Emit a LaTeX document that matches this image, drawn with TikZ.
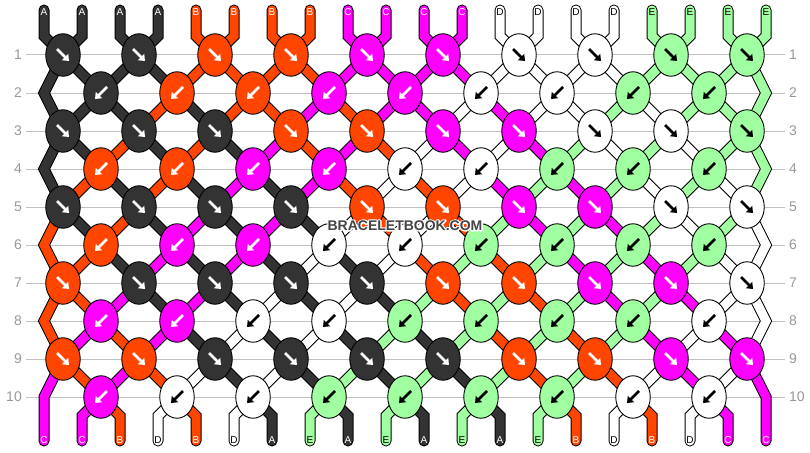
\documentclass[tikz,border=0pt]{standalone}
\usepackage{fontspec}
\setmainfont{Liberation Sans}
\usetikzlibrary{shapes.geometric,arrows.meta}
\pgfdeclarelayer{bg}
\pgfdeclarelayer{grid}
\pgfdeclarelayer{strout}
\pgfdeclarelayer{strfill}
\pgfsetlayers{bg,grid,strout,strfill,main}
\definecolor{cA}{HTML}{333333}
\definecolor{cB}{HTML}{FF4500}
\definecolor{cC}{HTML}{FF00FF}
\definecolor{cD}{HTML}{FFFFFF}
\definecolor{cE}{HTML}{A0FFA0}
\colorlet{tA}{white}
\colorlet{tB}{white}
\colorlet{tC}{white}
\colorlet{tD}{black}
\colorlet{tE}{black}
\definecolor{rowgray}{HTML}{999999}
\definecolor{linegray}{HTML}{C0C0C0}
\definecolor{wmgray}{HTML}{444444}
\tikzset{
  knot/.style={ellipse, draw=black, line width=0.9pt, minimum width=34.5pt, minimum height=42.5pt, inner sep=0pt},
  arr/.style={line width=2.6pt, -{Triangle[length=5.5pt,width=8.5pt]}},
  strouter/.style={line width=11pt, black, line cap=round, line join=miter},
  strinner/.style={line width=9pt, line cap=round, line join=miter},
  lbl/.style={inner sep=0pt, font=\fontsize{10}{12}\selectfont},
  rowlbl/.style={inner sep=0pt, text=rowgray, font=\fontsize{14}{16}\selectfont},
  gridline/.style={linegray, line width=1pt},
  wm/.style={inner sep=0pt, font=\fontsize{14}{16}\selectfont\bfseries}
}
\begin{document}
\begin{tikzpicture}[x=1pt,y=-1pt]
\useasboundingbox (0,0) rectangle (810,452);
\begin{pgfonlayer}{bg}
\fill[white] (0,0) rectangle (810,452);
\end{pgfonlayer}
% rows: labels, grid lines, edge points
\foreach \r in {1,...,10} {
  \pgfmathsetmacro\y{55+38*(\r-1)}
  \node[rowlbl, anchor=east] (RL-\r) at (22,\y) {\r};
  \node[rowlbl, anchor=west] (RR-\r) at (789,\y) {\r};
  \coordinate (GL-\r) at (26,\y);
  \coordinate (GR-\r) at (785,\y);
  \begin{pgfonlayer}{grid}
  \draw[gridline] (GL-\r) -- (GR-\r);
  \end{pgfonlayer}
  \coordinate (E-\r-L) at (44,\y);
  \coordinate (E-\r-R) at (766,\y);
}
% knots
\foreach \r/\cols in {1/{A,A,B,B,C,C,D,D,E,E},2/{A,B,B,C,C,D,D,E,E},3/{A,A,A,B,B,C,C,D,D,E},4/{B,B,C,C,D,D,E,E,E},5/{A,A,A,A,B,B,C,C,D,D},6/{B,C,C,D,D,E,E,E,E},7/{B,A,A,A,A,B,B,C,C,D},8/{C,C,D,D,E,E,E,E,D},9/{B,B,A,A,A,A,B,B,C,C},10/{C,D,D,E,E,E,E,D,D}} {
  \pgfmathsetmacro\y{55+38*(\r-1)}
  \pgfmathtruncatemacro\odd{mod(\r,2)}
  \foreach \c [count=\k from 0] in \cols {
    \pgfmathsetmacro\x{(\odd==1 ? 63 : 101) + 76*\k}
    \node[knot, fill=c\c] (K-\r-\k) at (\x,\y) {};
    \ifnum\odd=1
      \draw[arr, t\c] (K-\r-\k.center) ++(-6,-6) -- ++(12,12);
    \else
      \draw[arr, t\c] (K-\r-\k.center) ++(6,-6) -- ++(-12,12);
    \fi
  }
}
% string end points and top labels
\foreach \s in {0,...,19} {
  \pgfmathtruncatemacro\ci{int(\s/4)}
  \edef\sc{\ifcase\ci A\or B\or C\or D\or E\fi}
  \pgfmathsetmacro\xs{44+38*\s}
  \coordinate (T-\s) at (\xs,10);
  \coordinate (U-\s) at (\xs,36);
  \coordinate (V-\s) at (\xs,416);
  \coordinate (W-\s) at (\xs,441);
  \node[lbl, text=t\sc] (LT-\s) at (\xs,12.5) {\sc};
}
% bottom labels
\foreach \c [count=\s from 0] in {C,C,B,D,B,D,A,E,A,E,A,E,A,E,B,D,B,D,C,C} {
  \pgfmathsetmacro\xs{44+38*\s}
  \node[lbl, text=t\c] (LB-\s) at (\xs,440) {\c};
}
% strings
\foreach \s in {0,...,19} {
  \pgfmathtruncatemacro\ci{int(\s/4)}
  \edef\sc{\ifcase\ci A\or B\or C\or D\or E\fi}
  \xdef\pos{\s}
  \xdef\mypath{(T-\s) -- (U-\s)}
  \foreach \r in {1,...,10} {
    \pgfmathtruncatemacro\odd{mod(\r,2)}
    \ifnum\odd=1
      \pgfmathtruncatemacro\k{int(\pos/2)}
      \xdef\mypath{\mypath -- (K-\r-\k.center)}
      \pgfmathtruncatemacro\np{\pos + (mod(\pos,2)==0 ? 1 : -1)}
    \else
      \ifnum\pos=0
        \xdef\mypath{\mypath -- (E-\r-L)}
        \def\np{0}
      \else
        \ifnum\pos=19
          \xdef\mypath{\mypath -- (E-\r-R)}
          \def\np{19}
        \else
          \pgfmathtruncatemacro\k{int((\pos-1)/2)}
          \xdef\mypath{\mypath -- (K-\r-\k.center)}
          \pgfmathtruncatemacro\np{\pos + (mod(\pos,2)==1 ? 1 : -1)}
        \fi
      \fi
    \fi
    \xdef\pos{\np}
  }
  \xdef\mypath{\mypath -- (V-\pos) -- (W-\pos)}
  \begin{pgfonlayer}{strout}
  \edef\tmp{\noexpand\draw[strouter] \mypath;}\tmp
  \end{pgfonlayer}
  \begin{pgfonlayer}{strfill}
  \edef\tmp{\noexpand\draw[strinner, c\sc] \mypath;}\tmp
  \end{pgfonlayer}
}
% watermark: white stroked halo, then dark text
\node[wm, text=white] (WMH) at (405,225.5) {\special{pdf:literal direct 2.6 w 1 j 2 Tr}BRACELETBOOK.COM\special{pdf:literal direct 0 Tr}};
\node[wm, text=wmgray] (WM) at (405,225.5) {BRACELETBOOK.COM};
\end{tikzpicture}
\end{document}
